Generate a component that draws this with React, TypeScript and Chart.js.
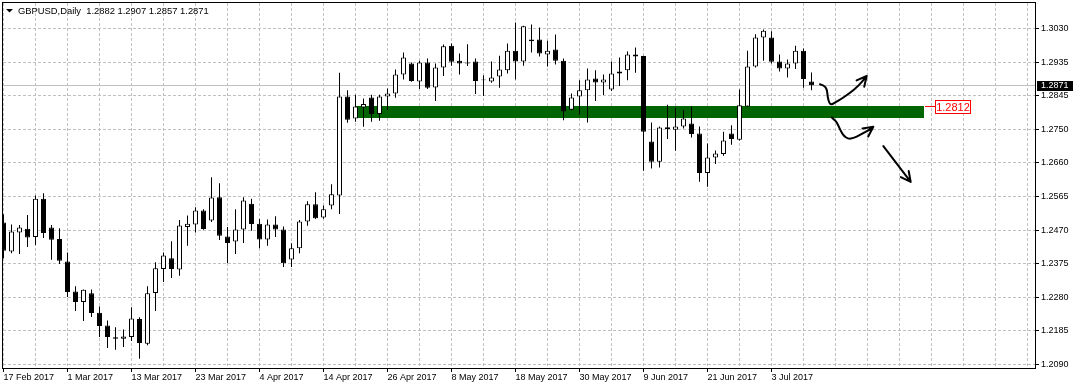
import React, { useEffect, useRef } from 'react';
import { Chart, registerables } from 'chart.js';

Chart.register(...registerables);

const symbolTitle = 'GBPUSD,Daily';
const lastBarOHLC = ['1.2882', '1.2907', '1.2857', '1.2871'];

const xTickLabels = [
  '17 Feb 2017', '1 Mar 2017', '13 Mar 2017', '23 Mar 2017', '4 Apr 2017', '14 Apr 2017',
  '26 Apr 2017', '8 May 2017', '18 May 2017', '30 May 2017', '9 Jun 2017', '21 Jun 2017', '3 Jul 2017',
];
const yTickLabels = ['1.3030', '1.2935', '1.2845', '1.2750', '1.2660', '1.2565', '1.2470', '1.2375', '1.2280', '1.2185', '1.2090'];

const opens = [
  1.2487, 1.2406, 1.2459, 1.2470, 1.2447, 1.2554, 1.2473, 1.2441, 1.2378, 1.2294,
  1.2265, 1.2289, 1.2235, 1.2199, 1.2166, 1.2162, 1.2167, 1.2217, 1.2148, 1.2290,
  1.2357, 1.2387, 1.2356, 1.2475, 1.2482, 1.2521, 1.2493, 1.2558, 1.2448, 1.2434,
  1.2468, 1.2540, 1.2484, 1.2440, 1.2482, 1.2468, 1.2384, 1.2415, 1.2490, 1.2538,
  1.2501, 1.2535, 1.2563, 1.2840, 1.2778, 1.2809, 1.2837, 1.2791, 1.2840, 1.2848,
  1.2901, 1.2932, 1.2882, 1.2935, 1.2865, 1.2921, 1.2982, 1.2940, 1.2935, 1.2938,
  1.2887, 1.2882, 1.2896, 1.2913, 1.2968, 1.2938, 1.2994, 1.2999, 1.2957, 1.2971,
  1.2940, 1.2803, 1.2840, 1.2857, 1.2890, 1.2879, 1.2859, 1.2904, 1.2913, 1.2957,
  1.2953, 1.2714, 1.2657, 1.2754, 1.2747, 1.2756, 1.2764, 1.2736, 1.2626, 1.2669,
  1.2679, 1.2736, 1.2719, 1.2812, 1.2924, 1.3005, 1.3005, 1.2938, 1.2918, 1.2932,
  1.2968, 1.2882,
];
const highs = [
  1.2510, 1.2482, 1.2480, 1.2508, 1.2563, 1.2569, 1.2480, 1.2471, 1.2403, 1.2309,
  1.2300, 1.2300, 1.2252, 1.2213, 1.2194, 1.2188, 1.2250, 1.2222, 1.2309, 1.2376,
  1.2403, 1.2435, 1.2494, 1.2507, 1.2530, 1.2524, 1.2614, 1.2597, 1.2475, 1.2524,
  1.2558, 1.2554, 1.2497, 1.2496, 1.2505, 1.2476, 1.2429, 1.2494, 1.2547, 1.2572,
  1.2535, 1.2594, 1.2906, 1.2857, 1.2845, 1.2834, 1.2845, 1.2845, 1.2862, 1.2915,
  1.2963, 1.2935, 1.2940, 1.2946, 1.2932, 1.2985, 1.2988, 1.2960, 1.2986, 1.2946,
  1.2899, 1.2938, 1.2954, 1.2988, 1.3047, 1.3038, 1.3041, 1.3033, 1.2996, 1.3013,
  1.2946, 1.2848, 1.2885, 1.2918, 1.2913, 1.2901, 1.2938, 1.2949, 1.2966, 1.2977,
  1.2954, 1.2767, 1.2756, 1.2817, 1.2808, 1.2803, 1.2812, 1.2756, 1.2708, 1.2689,
  1.2741, 1.2759, 1.2859, 1.2968, 1.3014, 1.3027, 1.3022, 1.2957, 1.2943, 1.2982,
  1.2974, 1.2907,
];
const lows = [
  1.2387, 1.2401, 1.2399, 1.2419, 1.2424, 1.2444, 1.2383, 1.2371, 1.2279, 1.2240,
  1.2212, 1.2223, 1.2167, 1.2136, 1.2131, 1.2139, 1.2156, 1.2106, 1.2144, 1.2240,
  1.2321, 1.2332, 1.2338, 1.2422, 1.2459, 1.2467, 1.2489, 1.2438, 1.2374, 1.2399,
  1.2430, 1.2464, 1.2415, 1.2422, 1.2447, 1.2363, 1.2363, 1.2401, 1.2478, 1.2497,
  1.2498, 1.2524, 1.2511, 1.2766, 1.2769, 1.2755, 1.2769, 1.2772, 1.2802, 1.2836,
  1.2887, 1.2881, 1.2861, 1.2861, 1.2827, 1.2897, 1.2926, 1.2901, 1.2925, 1.2847,
  1.2841, 1.2878, 1.2864, 1.2904, 1.2887, 1.2926, 1.2963, 1.2952, 1.2924, 1.2929,
  1.2773, 1.2801, 1.2789, 1.2767, 1.2827, 1.2844, 1.2855, 1.2869, 1.2885, 1.2906,
  1.2632, 1.2638, 1.2641, 1.2721, 1.2688, 1.2750, 1.2725, 1.2601, 1.2587, 1.2651,
  1.2674, 1.2705, 1.2717, 1.2810, 1.2921, 1.2940, 1.2932, 1.2910, 1.2893, 1.2917,
  1.2864, 1.2857,
];
const closes = [
  1.2408, 1.2462, 1.2473, 1.2445, 1.2554, 1.2458, 1.2439, 1.2380, 1.2293, 1.2265,
  1.2299, 1.2234, 1.2198, 1.2167, 1.2162, 1.2168, 1.2219, 1.2150, 1.2289, 1.2359,
  1.2395, 1.2357, 1.2479, 1.2484, 1.2521, 1.2469, 1.2557, 1.2450, 1.2430, 1.2468,
  1.2549, 1.2483, 1.2440, 1.2482, 1.2468, 1.2373, 1.2415, 1.2490, 1.2538, 1.2499,
  1.2524, 1.2566, 1.2840, 1.2775, 1.2812, 1.2819, 1.2791, 1.2840, 1.2848, 1.2901,
  1.2949, 1.2883, 1.2935, 1.2864, 1.2921, 1.2980, 1.2937, 1.2932, 1.2932, 1.2883,
  1.2885, 1.2893, 1.2915, 1.2968, 1.2938, 1.3036, 1.2999, 1.2960, 1.2968, 1.2940,
  1.2798, 1.2837, 1.2857, 1.2887, 1.2879, 1.2887, 1.2904, 1.2910, 1.2957, 1.2952,
  1.2741, 1.2657, 1.2753, 1.2749, 1.2756, 1.2778, 1.2735, 1.2626, 1.2669, 1.2680,
  1.2717, 1.2721, 1.2815, 1.2924, 1.3005, 1.3024, 1.2937, 1.2918, 1.2932, 1.2968,
  1.2889, 1.2871,
];

const currentPrice = 1.2871;
const zoneStart = 44;
const zoneEnd = 115;
const zoneTop = 1.2812;
const zoneBottom = 1.2780;
const zoneLabel = '1.2812';

// hand-drawn arrows: [bar index, price]
const arrowUp = [
  [102.06, 1.2874], [102.56, 1.2871], [102.9, 1.2861], [102.98, 1.2848], [103.06, 1.2834],
  [103.23, 1.2822], [103.44, 1.2817], [103.94, 1.2822], [104.78, 1.2834], [105.81, 1.2850],
  [106.85, 1.2869], [107.9, 1.2897],
];
const arrowBounce = [
  [103.53, 1.2781], [104.06, 1.2771], [104.35, 1.2759], [104.65, 1.2743], [105.06, 1.2729],
  [105.6, 1.2721], [106.23, 1.2723], [107.06, 1.2732], [108.1, 1.2745], [108.73, 1.2755],
];
const arrowDown = [[109.98, 1.2701], [113.4, 1.2601]];

const FONT = '"Liberation Sans", Arial, sans-serif';
const GRID = '#c0c0c0';

function drawArrow(ctx: CanvasRenderingContext2D, x: any, y: any, pts: number[][]) {
  const p = pts.map(([i, v]) => [x.getPixelForValue(i), y.getPixelForValue(v)]);
  ctx.beginPath();
  ctx.moveTo(p[0][0], p[0][1]);
  for (let k = 1; k < p.length - 1; k++) {
    const mx = (p[k][0] + p[k + 1][0]) / 2;
    const my = (p[k][1] + p[k + 1][1]) / 2;
    ctx.quadraticCurveTo(p[k][0], p[k][1], mx, my);
  }
  const t = p[p.length - 1];
  ctx.lineTo(t[0], t[1]);
  const b = p[p.length - 2];
  const ang = Math.atan2(t[1] - b[1], t[0] - b[0]);
  for (const s of [-1, 1]) {
    const a = ang + Math.PI + s * 0.47;
    ctx.moveTo(t[0], t[1]);
    ctx.lineTo(t[0] + 11 * Math.cos(a), t[1] + 11 * Math.sin(a));
  }
  ctx.stroke();
}

const mtPlugin = {
  id: 'mtPlugin',
  beforeDatasetsDraw(chart: any) {
    const { ctx, chartArea: a, scales } = chart;
    const x = scales.x;
    const y = scales.y;
    ctx.save();
    const py = Math.round(y.getPixelForValue(currentPrice) - 0.5) + 0.5;
    ctx.strokeStyle = GRID;
    ctx.lineWidth = 1;
    ctx.beginPath();
    ctx.moveTo(a.left, py);
    ctx.lineTo(a.right, py);
    ctx.stroke();
    const zx1 = Math.round(x.getPixelForValue(zoneStart));
    const zx2 = Math.round(x.getPixelForValue(zoneEnd));
    const zy1 = Math.round(y.getPixelForValue(zoneTop));
    const zy2 = Math.round(y.getPixelForValue(zoneBottom));
    ctx.fillStyle = '#006400';
    ctx.fillRect(zx1, zy1, zx2 - zx1, zy2 - zy1);
    ctx.restore();
  },
  afterDatasetsDraw(chart: any) {
    const { ctx, scales } = chart;
    ctx.save();
    ctx.strokeStyle = '#000';
    ctx.lineWidth = 2;
    ctx.lineCap = 'round';
    ctx.lineJoin = 'round';
    drawArrow(ctx, scales.x, scales.y, arrowUp);
    drawArrow(ctx, scales.x, scales.y, arrowBounce);
    drawArrow(ctx, scales.x, scales.y, arrowDown);
    ctx.restore();
  },
  afterDraw(chart: any) {
    const { ctx, chartArea: a, scales } = chart;
    const x = scales.x;
    const y = scales.y;
    ctx.save();
    // frame
    ctx.strokeStyle = '#000';
    ctx.lineWidth = 1;
    ctx.strokeRect(a.left - 0.5, a.top - 0.5, a.right - a.left + 1, a.bottom - a.top + 1);

    // header
    ctx.fillStyle = '#000';
    ctx.beginPath();
    ctx.moveTo(6, 9);
    ctx.lineTo(13, 9);
    ctx.lineTo(9.5, 12.5);
    ctx.closePath();
    ctx.fill();
    ctx.font = '9.4px ' + FONT;
    ctx.textBaseline = 'middle';
    ctx.textAlign = 'left';
    ctx.fillText(symbolTitle + '  ' + lastBarOHLC.join(' '), 18, 11);

    // zone price label
    const zx2 = Math.round(x.getPixelForValue(zoneEnd));
    const zy = Math.round(y.getPixelForValue(zoneTop)) + 0.5;
    ctx.strokeStyle = '#ff0000';
    ctx.beginPath();
    ctx.moveTo(zx2 + 1, zy);
    ctx.lineTo(zx2 + 11, zy);
    ctx.stroke();
    ctx.fillStyle = '#ffffff';
    ctx.fillRect(zx2 + 11, zy - 6.5, 35, 13);
    ctx.strokeRect(zx2 + 11.5, zy - 6, 35, 13);
    ctx.fillStyle = '#ff0000';
    ctx.font = '11px ' + FONT;
    ctx.textAlign = 'center';
    ctx.fillText(zoneLabel, zx2 + 29, zy + 1);

    // current price tag
    const py = Math.round(y.getPixelForValue(currentPrice));
    ctx.fillStyle = '#000';
    ctx.fillRect(a.right + 2, py - 4, 36, 10);
    ctx.fillStyle = '#fff';
    ctx.font = '9px ' + FONT;
    ctx.textAlign = 'left';
    ctx.fillText(currentPrice.toFixed(4), a.right + 6, py + 1);
    ctx.restore();
  },
};

export default function App() {
  const ref = useRef<HTMLCanvasElement | null>(null);

  useEffect(() => {
    if (!ref.current) return;
    const yTop = parseFloat(yTickLabels[0]);
    const yBot = parseFloat(yTickLabels[yTickLabels.length - 1]);
    const yStep = (yTop - yBot) / (yTickLabels.length - 1);
    const yMax = yTop + yStep * (25.5 / 33.6);
    const yMin = yBot - yStep * (3.5 / 33.6);

    const chart = new Chart(ref.current, {
      type: 'bar',
      data: {
        datasets: [
          {
            label: 'body',
            data: opens.map((o, i) => ({ x: i, y: [o, closes[i]] })) as any,
            backgroundColor: opens.map((o, i) => (closes[i] >= o ? '#ffffff' : '#000000')),
            borderColor: '#000000',
            borderWidth: 1,
            borderSkipped: false,
            grouped: false,
            maxBarThickness: 5,
            categoryPercentage: 1,
            barPercentage: 1,
            inflateAmount: 0,
            order: 0,
          } as any,
          {
            label: 'wick',
            data: lows.map((l, i) => ({ x: i, y: [l, highs[i]] })) as any,
            backgroundColor: '#000000',
            borderWidth: 0,
            grouped: false,
            maxBarThickness: 1,
            categoryPercentage: 1,
            barPercentage: 1,
            inflateAmount: 0,
            order: 1,
          } as any,
        ],
      },
      options: {
        responsive: false,
        animation: false,
        devicePixelRatio: 1,
        layout: { padding: { left: 3, top: 3, right: 0, bottom: 0 } },
        plugins: { legend: { display: false }, tooltip: { enabled: false } },
        scales: {
          x: {
            type: 'linear',
            position: 'bottom',
            offset: false,
            min: -0.0625,
            max: 128.9375,
            afterBuildTicks: (s: any) => {
              const t = [];
              for (let v = 0; v <= 128; v += 4) t.push({ value: v });
              s.ticks = t;
            },
            afterFit: (s: any) => {
              s.height = 21;
              s.paddingLeft = 0;
              s.paddingRight = 0;
            },
            grid: {
              offset: false,
              color: GRID,
              lineWidth: 1,
              drawTicks: true,
              tickLength: 4,
              tickBorderDash: [],
              tickColor: (c: any) => (c.tick && c.tick.label ? '#000' : 'rgba(0,0,0,0)'),
            },
            border: { display: false, dash: [3, 2] },
            ticks: {
              autoSkip: false,
              maxRotation: 0,
              minRotation: 0,
              align: 'start',
              padding: 0,
              color: '#000',
              font: { family: FONT, size: 9 },
              callback: (v: any) => {
                const n = Number(v);
                return n % 8 === 0 && xTickLabels[n / 8] ? xTickLabels[n / 8] : '';
              },
            },
          } as any,
          y: {
            type: 'linear',
            position: 'right',
            min: yMin,
            max: yMax,
            afterBuildTicks: (s: any) => {
              s.ticks = yTickLabels.map((_, k) => ({ value: yTop - k * yStep }));
            },
            afterFit: (s: any) => {
              s.width = 40;
              s.paddingTop = 0;
              s.paddingBottom = 0;
            },
            grid: {
              color: GRID,
              lineWidth: 1,
              drawTicks: true,
              tickLength: 4,
              tickBorderDash: [],
              tickColor: '#000',
            },
            border: { display: false, dash: [3, 2] },
            ticks: {
              padding: 2,
              color: '#000',
              font: { family: FONT, size: 9 },
              callback: (_v: any, i: number) => yTickLabels[i] ?? '',
            },
          } as any,
        },
      },
      plugins: [mtPlugin as any],
    });
    return () => chart.destroy();
  }, []);

  return (
    <div style={{ position: 'absolute', left: 0, top: 0, width: 1075, height: 389, background: '#ffffff' }}>
      <canvas ref={ref} width={1075} height={389} style={{ display: 'block', width: 1075, height: 389 }} />
    </div>
  );
}
